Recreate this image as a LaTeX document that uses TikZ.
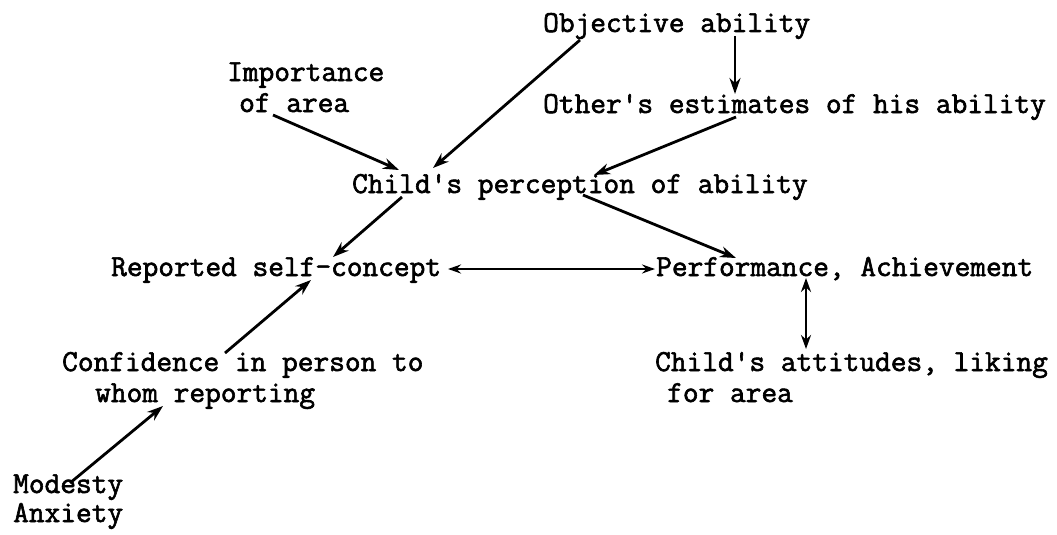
\documentclass[tikz,border=0pt]{standalone}
\usepackage{fontspec}
\setmonofont[FakeBold=2]{Latin Modern Mono}
\usetikzlibrary{calc,arrows.meta}
\tikzset{
  lbl/.style={anchor=base west, inner sep=0pt, font=\fontsize{30.5}{31}\selectfont\ttfamily, align=left},
  arr/.style={line width=2.8pt, -{Stealth[length=16pt,width=11pt]}},
  darr/.style={line width=2.8pt, {Stealth[length=14pt,width=10pt]}-{Stealth[length=14pt,width=10pt]}},
  harr/.style={line width=2.2pt, {Stealth[length=13pt,width=9pt]}-{Stealth[length=13pt,width=9pt]}}
}
\begin{document}
\begin{tikzpicture}[x=1pt,y=-1pt]
\useasboundingbox (0,0) rectangle (1057,535);
\node[lbl] (obj) at (543,32) {Objective ability};
\node[lbl] (imp) at (227,112) {Importance\\\hspace*{12pt}of area};
\node[lbl] (oth) at (543,113) {Other's estimates of his ability};
\node[lbl] (cp) at (352,193) {Child's perception of ability};
\node[lbl] (rsc) at (111,276) {Reported self-concept};
\node[lbl] (perf) at (656,276) {Performance, Achievement};
\node[lbl] (conf) at (62,402) {Confidence in person to\\\hspace*{33pt}whom reporting};
\node[lbl] (att) at (655,402) {Child's attitudes, liking\\\hspace*{12pt}for area};
\node[lbl] (mod) at (13,522) {Modesty\\[-2pt]Anxiety};

\draw[arr] ($(imp.base west)+(46,3)$) -- ($(cp.base west)+(47,-23)$);
\draw[arr] ($(obj.base west)+(37,8)$) -- ($(cp.base west)+(81,-25)$);
\draw[arr] ($(obj.base west)+(192,4)$) -- ($(oth.base west)+(192,-19)$);
\draw[arr] ($(oth.base west)+(193,4)$) -- ($(cp.base west)+(242,-18)$);
\draw[arr] ($(cp.base west)+(50,4)$) -- ($(rsc.base west)+(222,-19)$);
\draw[arr] ($(cp.base west)+(231,2)$) -- ($(perf.base west)+(80,-18)$);
\draw[harr] ($(rsc.base west)+(337,-7)$) -- ($(perf.base west)+(-1,-7)$);
\draw[darr] ($(perf.base west)+(150,2)$) -- ($(att.base west)+(151,-53)$);
\draw[arr] ($(conf.base west)+(163,-49)$) -- ($(rsc.base west)+(200,4)$);
\draw[arr] ($(mod.base west)+(57,-39)$) -- ($(conf.base west)+(101,4)$);
\end{tikzpicture}
\end{document}
